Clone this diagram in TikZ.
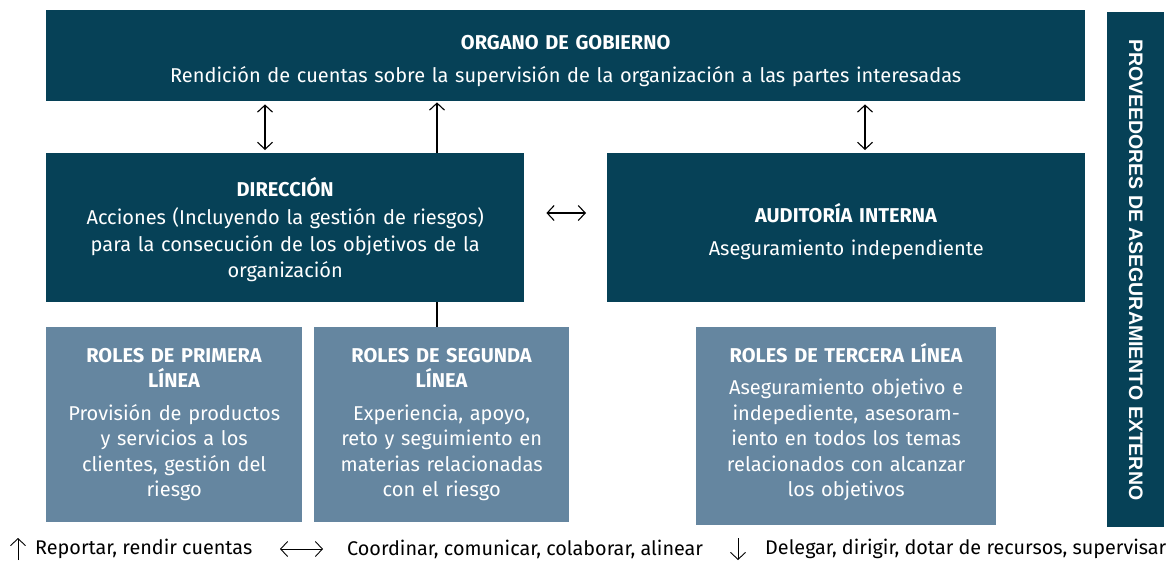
\documentclass[tikz,border=0pt]{standalone}
\usepackage{fontspec}
\setmainfont{Fira Sans}
\newfontfamily\barfont{Liberation Sans}
\usetikzlibrary{arrows.meta}
\definecolor{darkteal}{HTML}{064157}
\definecolor{steel}{HTML}{6586A0}
\tikzset{
  >={Straight Barb[length=7pt,width=15pt]},
  darkbox/.style={fill=darkteal, inner sep=0pt, anchor=north west},
  lightbox/.style={fill=steel, inner sep=0pt, anchor=north west},
  boxtext/.style={text=white, align=center, inner sep=0pt, font=\fontsize{20}{25.5}\selectfont},
  conn/.style={line width=1.1pt, black},
  legendtext/.style={font=\fontsize{19.8}{22}\selectfont, anchor=west, inner sep=0pt}
}
\begin{document}
\begin{tikzpicture}[x=1pt,y=-1pt]
\useasboundingbox (0,0) rectangle (1166,563);
% boxes
\node[darkbox, minimum width=1039pt, minimum height=91pt] (gob) at (46,10) {};
\node[darkbox, minimum width=478pt, minimum height=149pt] (dir) at (46,153) {};
\node[darkbox, minimum width=478pt, minimum height=149pt] (aud) at (607,153) {};
\node[lightbox, minimum width=256pt, minimum height=195pt] (r1) at (46,327) {};
\node[lightbox, minimum width=255pt, minimum height=195pt] (r2) at (314,327) {};
\node[lightbox, minimum width=300pt, minimum height=198pt] (r3) at (696,327) {};
\node[darkbox, minimum width=57pt, minimum height=515pt] (ext) at (1107,12) {};

% texts
\node[boxtext, text width=1000pt] (gobtext) at ([yshift=-5pt]gob.center)
  {\textbf{ORGANO DE GOBIERNO}\\[7.5pt]Rendición de cuentas sobre la supervisión de la organización a las partes interesadas};
\node[boxtext, text width=470pt, font=\fontsize{20}{26.5}\selectfont] (dirtext) at ([yshift=-2pt]dir.center)
  {\textbf{DIRECCIÓN}\\[1.5pt]Acciones (Incluyendo la gestión de riesgos)\\para la consecución de los objetivos de la\\organización};
\node[boxtext, text width=470pt] (audtext) at ([yshift=-4pt]aud.center)
  {\textbf{AUDITORÍA INTERNA}\\[7pt]Aseguramiento independiente};
\node[boxtext, text width=250pt] (r1text) at (r1.center)
  {\textbf{ROLES DE PRIMERA}\\\textbf{LÍNEA}\\[7pt]Provisión de productos\\y servicios a los\\clientes, gestión del\\riesgo};
\node[boxtext, text width=250pt] (r2text) at (r2.center)
  {\textbf{ROLES DE SEGUNDA}\\\textbf{LÍNEA}\\[7pt]Experiencia, apoyo,\\reto y seguimiento en\\materias relacionadas\\con el riesgo};
\node[boxtext, text width=296pt] (r3text) at ([yshift=4pt]r3.center)
  {\textbf{ROLES DE TERCERA LÍNEA}\\[7pt]Aseguramiento objetivo e\\indepediente, asesoram-\\iento en todos los temas\\relacionados con alcanzar\\los objetivos};
\node[text=white, font=\barfont\bfseries\fontsize{19.5}{22}\selectfont, rotate=-90, inner sep=0pt] (extlabel) at (ext.center) {PROVEEDORES DE ASEGURAMIENTO EXTERNO};

% connectors
\draw[conn, <->] ([yshift=-3pt]gob.south -| 265,0) -- ([yshift=3pt]dir.north -| 265,0);
\draw[conn, ->] (dir.north -| 437,0) -- ([yshift=-1pt]gob.south -| 437,0);
\draw[conn, <->] ([yshift=-3pt]gob.south -| 865,0) -- ([yshift=3pt]aud.north -| 865,0);
\draw[conn, <->] ([xshift=22pt]dir.east |- 0,213) -- ([xshift=-21pt]aud.west |- 0,213);
\draw[conn] (dir.south -| 437,0) -- (r2.north -| 437,0);

% legend
\coordinate (l1a) at (18,560); \coordinate (l1b) at (18,538);
\draw[line width=0.9pt, ->] (l1a) -- (l1b);
\node[legendtext] (leg1) at (35,549) {Reportar, rendir cuentas};
\coordinate (l2a) at (280,549); \coordinate (l2b) at (323,549);
\draw[line width=0.9pt, <->] (l2a) -- (l2b);
\node[legendtext] (leg2) at (347,549) {Coordinar, comunicar, colaborar, alinear};
\coordinate (l3a) at (738,538); \coordinate (l3b) at (738,560);
\draw[line width=0.9pt, ->] (l3a) -- (l3b);
\node[legendtext] (leg3) at (765,549) {Delegar, dirigir, dotar de recursos, supervisar};
\end{tikzpicture}
\end{document}
